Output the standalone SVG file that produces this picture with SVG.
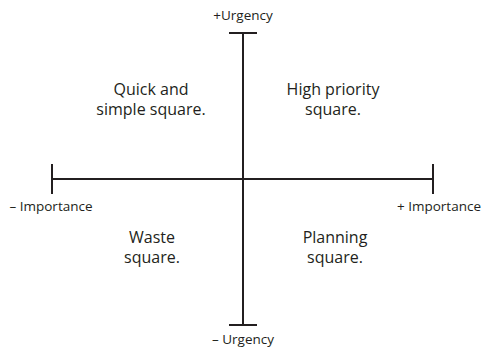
<svg xmlns="http://www.w3.org/2000/svg" width="483" height="349" viewBox="0 0 483 349">
<style>
.ax{stroke:#231f20;stroke-width:2;fill:none}
.lbl{font-family:"Open Sans","Liberation Sans",sans-serif;font-size:13.5px;fill:#231f20;text-anchor:middle}
.q{font-family:"Open Sans","Liberation Sans",sans-serif;font-size:16px;fill:#231f20;text-anchor:middle}
</style>
<rect width="483" height="349" fill="#fff"/>
<g id="connectors">
<path class="ax" d="M243 33V325M229 33H257M229 325H257"/>
<path class="ax" d="M52 179H433M52 164V194M433 164V194"/>
</g>
<g id="urgency-plus"><text class="lbl" x="243" y="20">+Urgency</text></g>
<g id="urgency-minus"><text class="lbl" x="243" y="344">– Urgency</text></g>
<g id="importance-minus"><text class="lbl" x="51" y="211">– Importance</text></g>
<g id="importance-plus"><text class="lbl" x="439" y="211">+ Importance</text></g>
<g id="quick"><text class="q" x="151" y="95">Quick and</text><text class="q" x="151" y="115">simple square.</text></g>
<g id="high"><text class="q" x="333" y="95">High priority</text><text class="q" x="333" y="115">square.</text></g>
<g id="waste"><text class="q" x="152" y="243">Waste</text><text class="q" x="152" y="263">square.</text></g>
<g id="planning"><text class="q" x="335" y="243">Planning</text><text class="q" x="335" y="263">square.</text></g>
</svg>
